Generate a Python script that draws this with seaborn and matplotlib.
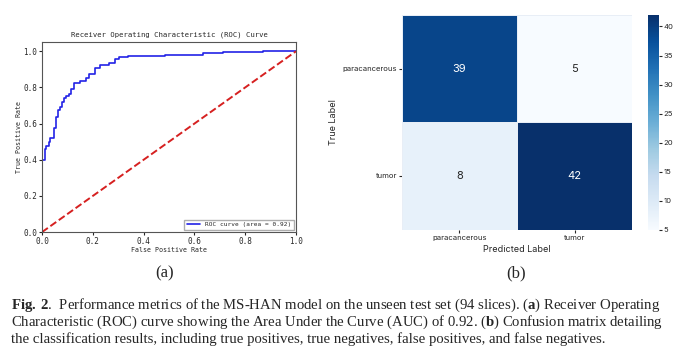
import numpy as np
import pandas as pd
import matplotlib
matplotlib.use('Agg')
import matplotlib.pyplot as plt
import seaborn as sns

# ROC curve vertices
fpr = [0.0, 0.0, 0.010, 0.010, 0.017, 0.017, 0.026, 0.026, 0.033, 0.033,
       0.047, 0.047, 0.054, 0.054, 0.063, 0.063, 0.070, 0.070, 0.078, 0.078,
       0.087, 0.087, 0.096, 0.096, 0.106, 0.106, 0.116, 0.116, 0.125, 0.125,
       0.148, 0.148, 0.172, 0.172, 0.185, 0.185, 0.208, 0.208, 0.227, 0.227,
       0.264, 0.264, 0.286, 0.286, 0.304, 0.304, 0.339, 0.339, 0.484, 0.484,
       0.635, 0.635, 0.714, 0.714, 0.871, 0.871, 1.0]
tpr = [0.0, 0.397, 0.397, 0.458, 0.458, 0.477, 0.477, 0.500, 0.500, 0.523,
       0.523, 0.573, 0.573, 0.634, 0.634, 0.675, 0.675, 0.693, 0.693, 0.720,
       0.720, 0.743, 0.743, 0.752, 0.752, 0.763, 0.763, 0.789, 0.789, 0.826,
       0.826, 0.835, 0.835, 0.850, 0.850, 0.874, 0.874, 0.906, 0.906, 0.924,
       0.924, 0.937, 0.937, 0.956, 0.956, 0.967, 0.967, 0.974, 0.974, 0.980,
       0.980, 0.989, 0.989, 0.996, 0.996, 1.0, 1.0]
roc_auc = 0.92

# confusion matrix
class_names = ["paracancerous", "tumor"]
cm = [[39, 5],
      [8, 42]]

sns.set_style("white")
plt.rcParams['font.family'] = ['DejaVu Sans']
plt.rcParams['mathtext.fontset'] = 'custom'
plt.rcParams['mathtext.bf'] = 'Liberation Serif:bold'
plt.rcParams['mathtext.rm'] = 'Liberation Serif'

fig = plt.figure(figsize=(6.95, 3.61), dpi=100)

# ---- (a) ROC curve
ax1 = fig.add_axes([0.0604, 0.357, 0.3655, 0.526])
roc_df = pd.DataFrame({"fpr": fpr, "tpr": tpr})
sns.lineplot(data=roc_df, x="fpr", y="tpr", sort=False, estimator=None,
             color="#2323e6", lw=1.2, ax=ax1,
             label=f"ROC curve (area = {roc_auc:.2f})")
ax1.plot([0, 1], [0, 1], color="#d62020", lw=1.4, ls="--")
ax1.set_xlim(0, 1)
ax1.set_ylim(0, 1.05)
mono = "DejaVu Sans Mono"
ax1.set_xlabel("False Positive Rate", fontsize=4.8, family=mono, labelpad=1)
ax1.set_ylabel("True Positive Rate", fontsize=4.8, family=mono, labelpad=1)
ax1.set_title("Receiver Operating Characteristic (ROC) Curve", fontsize=5.2, family=mono, pad=4)
ax1.set_xticks(np.arange(0, 1.01, 0.2))
ax1.set_yticks(np.arange(0, 1.01, 0.2))
ax1.tick_params(labelsize=5.5, length=2, pad=1.5, left=True, bottom=True)
for lbl in ax1.get_xticklabels() + ax1.get_yticklabels():
    lbl.set_family(mono)
for s in ax1.spines.values():
    s.set_color("#555555")
    s.set_linewidth(0.8)
ax1.legend(loc="lower right", prop={"family": mono, "size": 4.4},
           fancybox=False, edgecolor="#999999", handlelength=2.2,
           borderaxespad=0.4)

# ---- (b) confusion matrix
ax2 = fig.add_axes([0.578, 0.363, 0.332, 0.596])
cax = fig.add_axes([0.932, 0.363, 0.016, 0.596])
cm_df = pd.DataFrame(cm, index=class_names, columns=class_names)
sns.heatmap(cm_df, annot=True, fmt="d", cmap="Blues", ax=ax2, cbar_ax=cax,
            annot_kws={"fontsize": 8, "family": "Inter"},
            linewidths=0.4, linecolor="#e8eef6")
ax2.set_xlabel("Predicted Label", fontsize=6.5, family="Inter", labelpad=3)
ax2.set_ylabel("True Label", fontsize=6.5, family="Inter", labelpad=3)
ax2.tick_params(labelsize=5.5, length=2, pad=1.5, left=True, bottom=True)
ax2.set_yticklabels(class_names, rotation=0)
ax2.set_xticklabels(class_names, rotation=0)
for lbl in ax2.get_xticklabels() + ax2.get_yticklabels():
    lbl.set_family("Inter")
cax.set_yticks(range(5, 41, 5))
cax.tick_params(labelsize=5.5, length=2, pad=1.5)
for lbl in cax.get_yticklabels():
    lbl.set_family("Inter")

# ---- sub labels and caption
serif = "Liberation Serif"
fig.text(165 / 695, 1 - 273 / 361, "(a)", ha="center", va="center", fontsize=12, family=serif)
fig.text(516 / 695, 1 - 273 / 361, "(b)", ha="center", va="center", fontsize=12, family=serif)

cap_x = 11 / 695
line_y = [305, 322, 339]
line1 = r"$\mathbf{Fig.\,2}$.  Performance metrics of the MS-HAN model on the unseen test set (94 slices). ($\mathbf{a}$) Receiver Operating"
line2 = r"Characteristic (ROC) curve showing the Area Under the Curve (AUC) of 0.92. ($\mathbf{b}$) Confusion matrix detailing"
line3 = "the classification results, including true positives, true negatives, false positives, and false negatives."
for y, t in zip(line_y, [line1, line2, line3]):
    fig.text(cap_x, 1 - y / 361, t, ha="left", va="center", fontsize=10.6, family=serif)

fig.savefig("out.png", dpi=100)
